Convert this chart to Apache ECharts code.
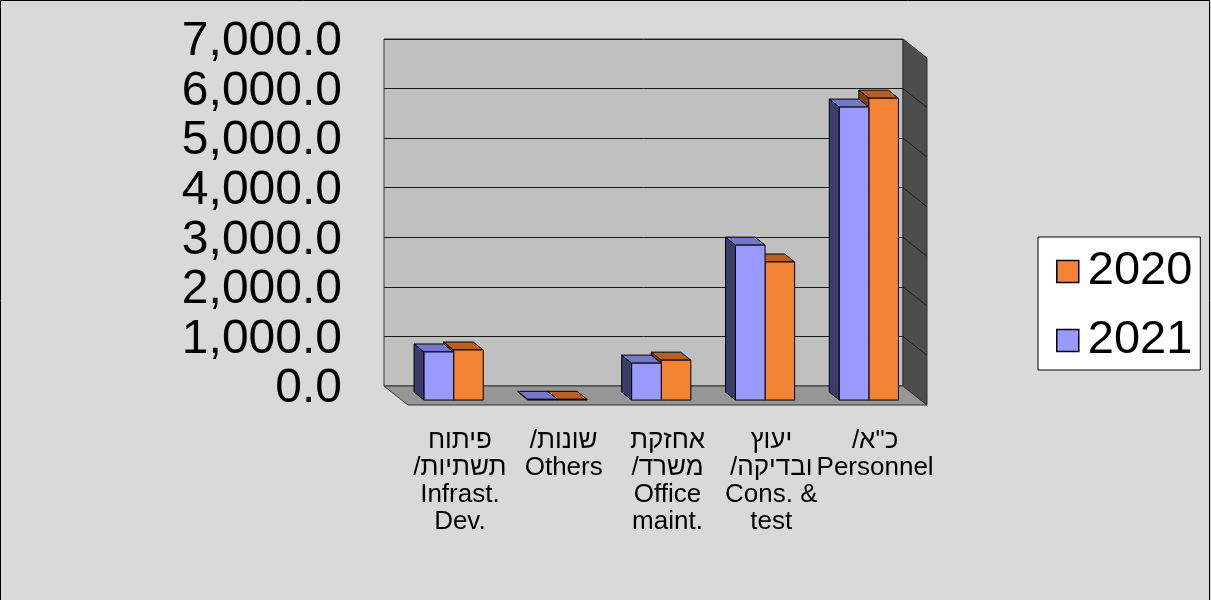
<!DOCTYPE html>
<html>
<head>
<meta charset="utf-8">
<script src="https://cdn.jsdelivr.net/npm/echarts@6/dist/echarts.min.js"></script>
<style>html,body{margin:0;padding:0;background:#d9d9d9}#c{width:1211px;height:600px}</style>
</head>
<body>
<div id="c"></div>
<script>
// ---- data ----
const categories = [
  'פיתוח\n/תשתיות\nInfrast.\nDev.',
  '/שונות\nOthers',
  'אחזקת\n/משרד\nOffice\nmaint.',
  'יעוץ\n/ובדיקה\nCons. &\ntest',
  '/כ"א\nPersonnel'
];
const seriesNames = ['2020', '2021'];
const values2020 = [1010, 15, 805, 2785, 6090];
const values2021 = [970, 15, 745, 3125, 5910];
const yMin = 0, yMax = 7000, yStep = 1000;

// ---- layout / style ----
const WALL = {left: 384, top: 39, width: 519, height: 347};
const DX = 24, DY = 19;          // full floor depth
const F = 0.74;                  // depth fraction of bar front plane
const BDX = 10, BDY = 8;         // bar depth
const LABEL_SHIFT = 3;           // value labels sit slightly below their gridlines
const FONT = 'Liberation Sans, Arial, sans-serif';
const COLORS = {
  '2020': {front: '#f28434', top: '#b85f24', side: '#7c3f16'},
  '2021': {front: '#9999ff', top: '#7676cc', side: '#3c3c6a'}
};

const chart = echarts.init(document.getElementById('c'), null, {renderer: 'canvas'});

function fmt(v) {
  return v.toLocaleString('en-US', {minimumFractionDigits: 1, maximumFractionDigits: 1});
}

function wallsRender(params, api) {
  const cs = params.coordSys;
  const x0 = cs.x, x1 = cs.x + cs.width, yT = cs.y, yB = cs.y + cs.height;
  const children = [];
  children.push({type: 'polygon', shape: {points: [[x0, yB], [x1, yB], [x1 + DX, yB + DY], [x0 + DX, yB + DY]]},
    style: {fill: '#969696', stroke: '#333', lineWidth: 1}});
  children.push({type: 'polygon', shape: {points: [[x1, yT], [x1 + DX, yT + DY], [x1 + DX, yB + DY], [x1, yB]]},
    style: {fill: '#4d4d4d', stroke: '#333', lineWidth: 1}});
  for (let v = yMin + yStep; v < yMax; v += yStep) {
    const y = api.coord([0, v])[1];
    children.push({type: 'line', shape: {x1: x1, y1: y, x2: x1 + DX, y2: y + DY},
      style: {stroke: '#1a1a1a', lineWidth: 1}});
  }
  return {type: 'group', children: children};
}

function barRender(name, sign) {
  return function (params, api) {
    const idx = api.value(0), val = api.value(1);
    const pB = api.coord([idx, 0]);
    const pT = api.coord([idx, val]);
    const w = api.size([1, 0])[0] * 0.285;
    const cx = pB[0];
    const xa = sign < 0 ? cx - w : cx;
    const xb = xa + w;
    const yT = pT[1], yB = pB[1];
    const c = COLORS[name];
    const st = {stroke: '#000', lineWidth: 1, lineJoin: 'round'};
    return {type: 'group', children: [
      {type: 'polygon', shape: {points: [[xa, yT], [xa - BDX, yT - BDY], [xa - BDX, yB - BDY], [xa, yB]]},
        style: Object.assign({fill: c.side}, st)},
      {type: 'polygon', shape: {points: [[xa, yT], [xb, yT], [xb - BDX, yT - BDY], [xa - BDX, yT - BDY]]},
        style: Object.assign({fill: c.top}, st)},
      {type: 'rect', shape: {x: xa, y: yT, width: w, height: yB - yT},
        style: Object.assign({fill: c.front}, st)}
    ]};
  };
}

const hiddenY = {type: 'value', min: yMin, max: yMax, interval: yStep, show: false};

const option = {
  backgroundColor: '#d9d9d9',
  animation: false,
  grid: [
    {left: WALL.left, top: WALL.top, width: WALL.width, height: WALL.height, show: true,
      backgroundColor: '#c0c0c0', borderColor: '#333', borderWidth: 1},
    {left: WALL.left + DX * F, top: WALL.top + DY * F, width: WALL.width, height: WALL.height},
    {left: WALL.left + DX, top: WALL.top + DY, width: WALL.width, height: WALL.height},
    {left: WALL.left, top: WALL.top + LABEL_SHIFT, width: WALL.width, height: WALL.height}
  ],
  xAxis: [
    {gridIndex: 0, type: 'category', data: categories, show: false},
    {gridIndex: 1, type: 'category', data: categories, show: false},
    {gridIndex: 2, type: 'category', data: categories,
      axisLine: {show: false}, axisTick: {show: false}, splitLine: {show: false},
      axisLabel: {interval: 0, margin: 22, fontSize: 26, lineHeight: 27, color: '#000', fontFamily: FONT}},
    {gridIndex: 3, type: 'category', data: categories, show: false}
  ],
  yAxis: [
    {gridIndex: 0, type: 'value', min: yMin, max: yMax, interval: yStep,
      axisLine: {show: false}, axisTick: {show: false}, axisLabel: {show: false},
      splitLine: {show: true, lineStyle: {color: '#1a1a1a', width: 1}}},
    Object.assign({gridIndex: 1}, hiddenY),
    Object.assign({gridIndex: 2}, hiddenY),
    {gridIndex: 3, type: 'value', min: yMin, max: yMax, interval: yStep,
      axisLine: {show: false}, axisTick: {show: false}, splitLine: {show: false},
      axisLabel: {formatter: fmt, margin: 42, fontSize: 48, color: '#000', fontFamily: FONT}}
  ],
  legend: {
    data: seriesNames,
    orient: 'vertical',
    left: 1038, top: 237,
    padding: [11, 8, 6, 18],
    itemGap: 22,
    itemWidth: 22, itemHeight: 22,
    icon: 'rect',
    backgroundColor: '#ffffff',
    borderColor: '#000', borderWidth: 1,
    itemStyle: {borderColor: '#000', borderWidth: 1.5},
    textStyle: {fontSize: 47, lineHeight: 46, color: '#000', fontFamily: FONT, padding: [0, 0, 0, 4]}
  },
  graphic: [
    {type: 'rect', shape: {x: 0.5, y: 0.5, width: 1209, height: 660}, style: {fill: 'none', stroke: '#000', lineWidth: 1}, z: 100, silent: true}
  ],
  series: [
    {type: 'custom', name: 'walls', xAxisIndex: 0, yAxisIndex: 0, data: [[0, 0]], renderItem: wallsRender, z: 1, clip: false, silent: true},
    {type: 'custom', name: '2020', xAxisIndex: 1, yAxisIndex: 1, z: 3, clip: false,
      itemStyle: {color: COLORS['2020'].front},
      encode: {x: 0, y: 1},
      data: values2020.map((v, i) => [i, v]), renderItem: barRender('2020', 1)},
    {type: 'custom', name: '2021', xAxisIndex: 1, yAxisIndex: 1, z: 4, clip: false,
      itemStyle: {color: COLORS['2021'].front},
      encode: {x: 0, y: 1},
      data: values2021.map((v, i) => [i, v]), renderItem: barRender('2021', -1)}
  ]
};
chart.setOption(option);
</script>
</body>
</html>
